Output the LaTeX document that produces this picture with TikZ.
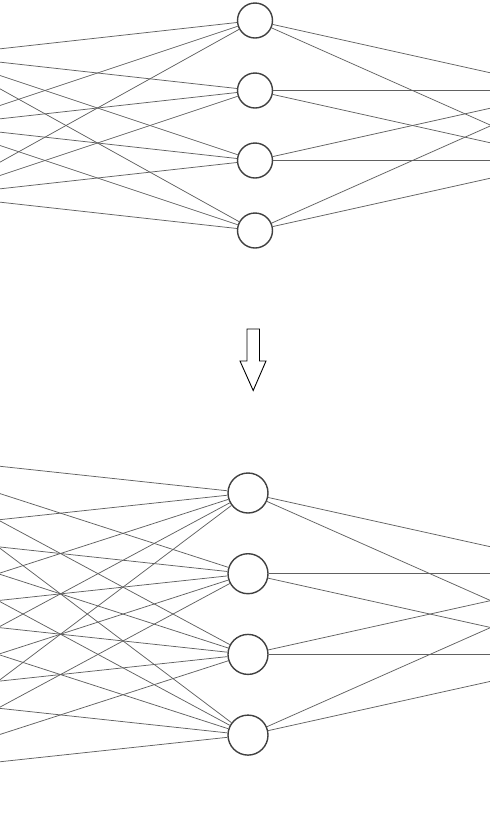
\documentclass[tikz,border=0pt]{standalone}
\usepackage{tikz}

\tikzset{
  neuron/.style={circle, draw=black!75, line width=1.4pt, fill=white, inner sep=0pt},
  synapse/.style={draw=black!62, line width=0.75pt}
}

\begin{document}
\begin{tikzpicture}[x=1pt,y=-1pt]

    \useasboundingbox (0,0) rectangle (490,820);
    \clip (0,0) rectangle (490,820);

    % small net, 3 -> 4 -> 2
    \foreach \j in {1,2,3}
    \coordinate (i\j) at (-60,{55.5+70*(\j-1)});
    \foreach \j in {1,2}
    \coordinate (o\j) at (570,{90.5+70*(\j-1)});
    \foreach \i in {1,2,3,4}
    \node[neuron, minimum size=35pt] (h\i) at (255,{20.5+70*(\i-1)}) {};

    \foreach \i in {1,2,3,4} {
      \foreach \j in {1,2,3}
      \draw[synapse] (i\j) -- (h\i);
      \foreach \j in {1,2}
      \draw[synapse] (h\i) -- (o\j);
    }

    % arrow
    \draw[line width=0.9pt, fill=white] (247,329) -- (259.5,329) -- (259.5,361) -- (266,361)
      -- (253.2,390.5) -- (240,361) -- (247,361) -- cycle;

    % big net, 5 -> 4 -> 2
    \foreach \j in {1,2,3,4,5}
    \coordinate (I\j) at (-127,{452.6+80.7*(\j-1)});
    \foreach \j in {1,2}
    \coordinate (O\j) at (612,{573.7+80.7*(\j-1)});
    \foreach \i in {1,2,3,4}
    \node[neuron, minimum size=40pt] (H\i) at (248,{493+80.7*(\i-1)}) {};

    \foreach \i in {1,2,3,4} {
      \foreach \j in {1,2,3,4,5}
      \draw[synapse] (I\j) -- (H\i);
      \foreach \j in {1,2}
      \draw[synapse] (H\i) -- (O\j);
    }

  \end{tikzpicture}
\end{document}
